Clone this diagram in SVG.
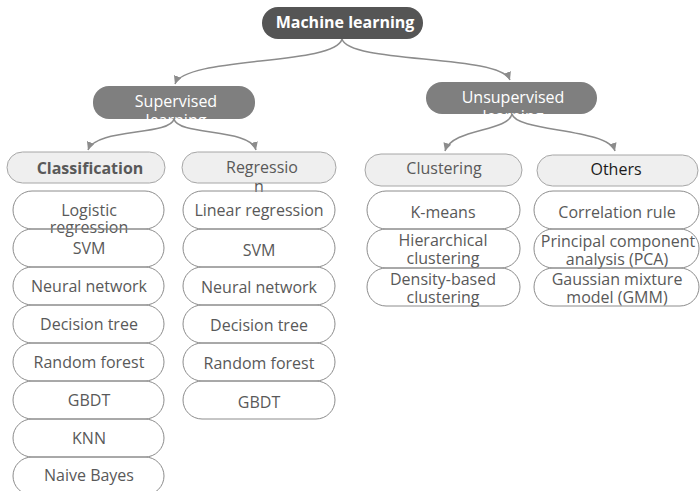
<svg xmlns="http://www.w3.org/2000/svg" width="700" height="491" viewBox="0 0 700 491">
<style>
text{font-family:"Open Sans","Noto Sans","Liberation Sans",sans-serif;text-anchor:middle}
.root rect{fill:#555555}
.root text{fill:#ffffff;font-size:16px;font-weight:bold}
.l1 rect{fill:#7f7f7f}
.l1 text{fill:#ffffff;font-size:16px}
.hd rect{fill:#efefef;stroke:#a6a6a6;stroke-width:1}
.hd text{fill:#595959;font-size:16px}
.it rect{fill:none;stroke:#8c8c8c;stroke-width:1}
.it text{fill:#595959;font-size:16px}
.conn path{fill:none;stroke:#8c8c8c;stroke-width:1.5}
</style>
<defs>
<marker id="ah" markerUnits="userSpaceOnUse" markerWidth="10" markerHeight="10" refX="8" refY="4" orient="auto">
<path d="M0,0 L8,4 L0,8 Z" fill="#8c8c8c"/>
</marker>
<clipPath id="cSup"><rect x="93" y="86" width="162" height="33" rx="16"/></clipPath>
<clipPath id="cUns"><rect x="426" y="82" width="171" height="32" rx="16"/></clipPath>
</defs>

<g class="conn">
<path d="M342,39 C335,66 185,56 175,84" marker-end="url(#ah)"/>
<path d="M342,39 C349,64 500,54 510,80" marker-end="url(#ah)"/>
<path d="M174,119 C170,136 96,128 88,150" marker-end="url(#ah)"/>
<path d="M174,119 C178,136 250,128 256,150" marker-end="url(#ah)"/>
<path d="M512,114 C508,132 452,128 445,151" marker-end="url(#ah)"/>
<path d="M512,114 C516,132 608,128 615,151" marker-end="url(#ah)"/>
</g>

<g id="n-ml" class="root"><rect x="262" y="7" width="161" height="32" rx="16"/><text x="345" y="28">Machine learning</text></g>
<g id="n-sup" class="l1"><rect x="93" y="86" width="162" height="33" rx="16"/><g clip-path="url(#cSup)"><text x="176" y="107">Supervised</text><text x="176" y="126">learning</text></g></g>
<g id="n-uns" class="l1"><rect x="426" y="82" width="171" height="32" rx="16"/><g clip-path="url(#cUns)"><text x="513" y="103">Unsupervised</text><text x="513" y="122">learning</text></g></g>

<g id="n-cls" class="hd"><rect x="7" y="152" width="158" height="31" rx="15.5"/><text x="90" y="174" font-weight="bold">Classification</text></g>
<g id="n-reg" class="hd"><rect x="182" y="152" width="154" height="31" rx="15.5"/><text x="262" y="173">Regressio</text><text x="259" y="192">n</text></g>
<g id="n-clu" class="hd"><rect x="365" y="154" width="157" height="32" rx="16"/><text x="444" y="174">Clustering</text></g>
<g id="n-oth" class="hd"><rect x="537" y="155" width="161" height="31" rx="15.5"/><text x="616" y="175" style="fill:#1a1a1a">Others</text></g>

<g id="c1" class="it"><rect x="13" y="191" width="151" height="38" rx="19"/><text x="89" y="216">Logistic</text><text x="89" y="233">regression</text></g>
<g id="c2" class="it"><rect x="13" y="229" width="151" height="38" rx="19"/><text x="89" y="254">SVM</text></g>
<g id="c3" class="it"><rect x="13" y="267" width="151" height="38" rx="19"/><text x="89" y="292">Neural network</text></g>
<g id="c4" class="it"><rect x="13" y="305" width="151" height="38" rx="19"/><text x="89" y="330">Decision tree</text></g>
<g id="c5" class="it"><rect x="13" y="343" width="151" height="38" rx="19"/><text x="89" y="368">Random forest</text></g>
<g id="c6" class="it"><rect x="13" y="381" width="151" height="38" rx="19"/><text x="89" y="406">GBDT</text></g>
<g id="c7" class="it"><rect x="13" y="419" width="151" height="38" rx="19"/><text x="89" y="444">KNN</text></g>
<g id="c8" class="it"><rect x="13" y="457" width="151" height="38" rx="19"/><text x="89" y="481">Naive Bayes</text></g>

<g id="r1" class="it"><rect x="183" y="191" width="152" height="38" rx="19"/><text x="259" y="216">Linear regression</text></g>
<g id="r2" class="it"><rect x="183" y="229" width="152" height="38" rx="19"/><text x="259" y="256">SVM</text></g>
<g id="r3" class="it"><rect x="183" y="267" width="152" height="38" rx="19"/><text x="259" y="293">Neural network</text></g>
<g id="r4" class="it"><rect x="183" y="305" width="152" height="38" rx="19"/><text x="259" y="331">Decision tree</text></g>
<g id="r5" class="it"><rect x="183" y="343" width="152" height="38" rx="19"/><text x="259" y="369">Random forest</text></g>
<g id="r6" class="it"><rect x="183" y="381" width="152" height="38" rx="19"/><text x="259" y="408">GBDT</text></g>

<g id="k1" class="it"><rect x="367" y="191" width="153" height="38" rx="19"/><text x="443" y="218">K-means</text></g>
<g id="k2" class="it"><rect x="367" y="229" width="153" height="39" rx="19"/><text x="443" y="246">Hierarchical</text><text x="443" y="264">clustering</text></g>
<g id="k3" class="it"><rect x="367" y="268" width="153" height="38" rx="19"/><text x="443" y="285">Density-based</text><text x="443" y="303">clustering</text></g>

<g id="o1" class="it"><rect x="534" y="191" width="165" height="38" rx="19"/><text x="617" y="218">Correlation rule</text></g>
<g id="o2" class="it"><rect x="534" y="229" width="165" height="39" rx="19"/><text x="618" y="247">Principal component</text><text x="617" y="265">analysis (PCA)</text></g>
<g id="o3" class="it"><rect x="534" y="268" width="165" height="38" rx="19"/><text x="617" y="285">Gaussian mixture</text><text x="617" y="303">model (GMM)</text></g>
</svg>
